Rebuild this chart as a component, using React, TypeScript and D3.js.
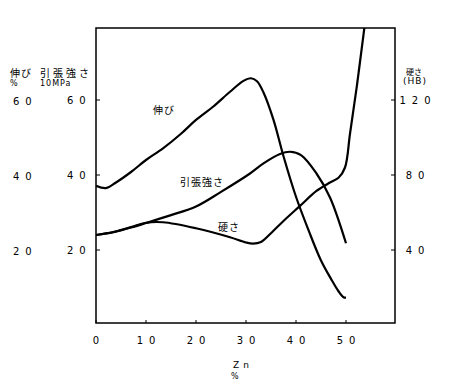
import React, { useEffect, useRef } from 'react';
import * as d3 from 'd3';

const elongZn = [0, 2, 4, 7, 10, 13.4, 17, 20, 23.4, 26.8, 29.5, 31, 32.2, 33.5, 35.5, 37.5, 40, 42.5, 45, 47, 48.5, 49.5, 50];
const elongVal = [37.1, 36.5, 38, 40.8, 44, 47.1, 51, 54.7, 58.2, 62.2, 65.1, 65.8, 65, 62, 54.7, 45, 34.2, 25.3, 17.2, 12.3, 9, 7.4, 7.3];

const tensileZn = [0, 3.5, 7, 10, 15, 20, 25, 30.8, 33.5, 36.8, 38.8, 41, 44.1, 46.8, 50];
const tensileVal = [24, 24.8, 26, 27.2, 29.3, 31.6, 35.5, 40.4, 43.1, 45.6, 46.2, 45.3, 40.4, 34, 21.8];

const hardZn = [0, 3.5, 7, 10, 13.4, 20, 26.8, 30, 31.4, 33, 35.2, 37.5, 40.8, 44.1, 46.8, 48.5, 49.8, 50.8, 52.2, 53.7, 54.2];
const hardVal = [48, 49.5, 52.2, 54.5, 54.8, 51.6, 46.8, 44, 43.4, 44.3, 49.5, 55.5, 63.5, 71.5, 76, 78.5, 84, 102, 128, 159, 168];

const xTicks = [0, 10, 20, 30, 40, 50];
const leftTicks = [20, 40, 60];
const rightTicks = [40, 80, 120];

const App: React.FC = () => {
  const svgRef = useRef<SVGSVGElement>(null);

  useEffect(() => {
    if (!svgRef.current) return;
    const svg = d3.select(svgRef.current);
    svg.selectAll('*').remove();

    const left = 96, right = 395, top = 28, bottom = 323;
    const x = d3.scaleLinear().domain([0, 60]).range([96, 396]);
    const y = d3.scaleLinear().domain([0, 80]).range([325, 25]);
    const yR = d3.scaleLinear().domain([0, 160]).range([325, 25]);

    const num = 'DejaVu Sans, sans-serif';
    const jp = '"Noto Sans CJK JP", sans-serif';

    svg.append('clipPath').attr('id', 'plot')
      .append('rect')
      .attr('x', left).attr('y', top)
      .attr('width', right - left).attr('height', bottom - top);

    // frame
    svg.append('rect')
      .attr('x', left).attr('y', top)
      .attr('width', right - left).attr('height', bottom - top)
      .attr('fill', 'none').attr('stroke', '#000').attr('stroke-width', 1.5);

    // ticks (pointing inwards)
    xTicks.forEach(t => {
      svg.append('line')
        .attr('x1', x(t)).attr('x2', x(t))
        .attr('y1', bottom).attr('y2', bottom - 3)
        .attr('stroke', '#000');
      svg.append('text')
        .attr('x', x(t) + 3).attr('y', 344)
        .attr('text-anchor', 'middle')
        .attr('font-family', num).attr('font-size', 10)
        .attr('letter-spacing', 6)
        .text(String(t));
    });
    leftTicks.forEach(t => {
      svg.append('line')
        .attr('x1', left).attr('x2', left + 4)
        .attr('y1', y(t)).attr('y2', y(t))
        .attr('stroke', '#000');
      svg.append('text')
        .attr('x', 13).attr('y', y(t) + 5)
        .attr('font-family', num).attr('font-size', 10)
        .attr('letter-spacing', 6)
        .text(String(t));
      svg.append('text')
        .attr('x', 67).attr('y', y(t) + 4)
        .attr('font-family', num).attr('font-size', 10)
        .attr('letter-spacing', 6)
        .text(String(t));
    });
    rightTicks.forEach(t => {
      svg.append('line')
        .attr('x1', right).attr('x2', right - 4)
        .attr('y1', yR(t)).attr('y2', yR(t))
        .attr('stroke', '#000');
      svg.append('text')
        .attr('x', 418).attr('y', yR(t) + 4)
        .attr('text-anchor', 'middle')
        .attr('font-family', num).attr('font-size', 10)
        .attr('letter-spacing', 6)
        .text(String(t));
    });

    // axis headers
    const label = (tx: number, ty: number, s: string, fam: string, size: number, ls = 0, anchor = 'start') =>
      svg.append('text')
        .attr('x', tx).attr('y', ty)
        .attr('text-anchor', anchor)
        .attr('font-family', fam).attr('font-size', size)
        .attr('letter-spacing', ls)
        .text(s);

    label(10, 77, '伸び', jp, 10, 1);
    label(10, 86, '%', num, 8);
    label(40, 77, '引張強さ', jp, 10, 3);
    label(40, 86, '10MPa', num, 8, 1);
    label(406, 75, '硬さ', jp, 8);
    label(403, 84, '(HB)', num, 9, 1);
    label(233, 368, 'Zn', num, 9, 4);
    label(231, 379, '%', num, 8);

    // curves
    const g = svg.append('g').attr('clip-path', 'url(#plot)');
    const drawCurve = (xs: number[], vs: number[], ys: d3.ScaleLinear<number, number>) => {
      const line = d3.line<number>()
        .x((_, i) => x(xs[i]))
        .y(v => ys(v))
        .curve(d3.curveCatmullRom.alpha(0.5));
      g.append('path')
        .attr('d', line(vs) as string)
        .attr('fill', 'none')
        .attr('stroke', '#000')
        .attr('stroke-width', 2.2);
    };
    drawCurve(elongZn, elongVal, y);
    drawCurve(tensileZn, tensileVal, y);
    drawCurve(hardZn, hardVal, yR);

    // curve labels
    label(153, 114, '伸び', jp, 10, 1);
    label(180, 186, '引張強さ', jp, 10, 1);
    label(218, 231, '硬さ', jp, 10, 1);
  }, []);

  return (
    <svg
      ref={svgRef}
      width={454}
      height={388}
      viewBox="0 0 454 388"
      style={{ position: 'absolute', left: 0, top: 0, background: '#fff' }}
    />
  );
};

export default App;
